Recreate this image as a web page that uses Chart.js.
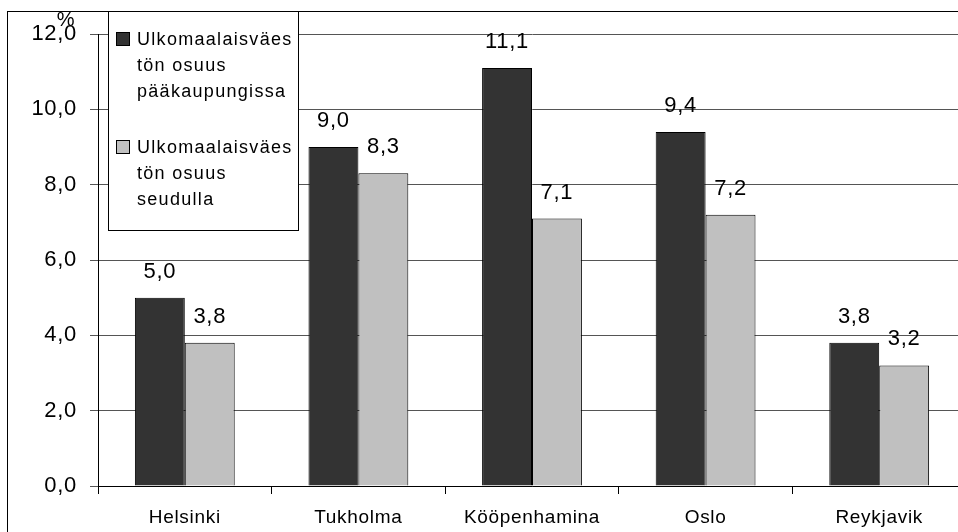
<!DOCTYPE html>
<html>
<head>
<meta charset="utf-8">
<script src="https://cdn.jsdelivr.net/npm/chart.js@4/dist/chart.umd.min.js"></script>
<style>
  html, body { margin: 0; padding: 0; background: #fff; overflow: hidden; }
  #wrap { position: absolute; left: 0; top: 0; width: 966px; height: 532px; }
</style>
</head>
<body>
<div id="wrap"><canvas id="chart" width="966" height="532"></canvas></div>
<script>
const cities = ['Helsinki', 'Tukholma', 'Kööpenhamina', 'Oslo', 'Reykjavik'];
const capitalShare = [5.0, 9.0, 11.1, 9.4, 3.8];
const regionShare = [3.8, 8.3, 7.1, 7.2, 3.2];
const seriesLines = [
    ['Ulkomaalaisväes', 'tön osuus', 'pääkaupungissa'],
    ['Ulkomaalaisväes', 'tön osuus', 'seudulla']
];
const yTicks = [0, 2, 4, 6, 8, 10, 12];
const unitLabel = '%';

const fontFamily = '"Liberation Sans", Arial, sans-serif';

function fmt(v) {
    return v.toFixed(1).replace('.', ',');
}

// frame, % label, value labels and the boxed legend
const extras = {
    id: 'extras',
    beforeDraw(chart) {
        // the old office renderer spaces its glyphs a bit wider
        chart.ctx.letterSpacing = '0.7px';
    },
    afterDraw(chart) {
        const ctx = chart.ctx;
        ctx.save();
        ctx.strokeStyle = '#000';
        ctx.lineWidth = 1;
        ctx.strokeRect(7.5, 11.5, 1100, 1100);

        ctx.fillStyle = '#000';
        ctx.font = '20px ' + fontFamily;
        ctx.textAlign = 'center';
        ctx.textBaseline = 'alphabetic';
        ctx.fillText(unitLabel, 66, 26);

        ctx.font = '22px ' + fontFamily;
        chart.data.datasets.forEach((ds, di) => {
            const meta = chart.getDatasetMeta(di);
            meta.data.forEach((bar, i) => {
                ctx.fillText(fmt(ds.data[i]), bar.x, bar.y - 20);
            });
        });

        // legend
        ctx.fillStyle = '#fff';
        ctx.fillRect(108.5, 11.5, 190, 219);
        ctx.strokeRect(108.5, 11.5, 190, 219);
        ctx.font = '18px ' + fontFamily;
        ctx.letterSpacing = '1.3px';
        ctx.textAlign = 'left';
        chart.data.datasets.forEach((ds, di) => {
            const top = 32 + di * 108;
            ctx.fillStyle = ds.backgroundColor;
            ctx.fillRect(116.5, top + 0.5, 13, 13);
            ctx.strokeRect(116.5, top + 0.5, 13, 13);
            ctx.fillStyle = '#000';
            seriesLines[di].forEach((line, li) => {
                ctx.fillText(line, 137, top + 13 + li * 26);
            });
        });
        ctx.restore();
    }
};

const chart = new Chart(document.getElementById('chart'), {
    type: 'bar',
    data: {
        labels: cities,
        datasets: [{
            label: seriesLines[0].join(''),
            data: capitalShare,
            backgroundColor: '#333333',
            borderColor: '#000',
            borderWidth: 1,
            categoryPercentage: 0.575,
            barPercentage: 1
        }, {
            label: seriesLines[1].join(''),
            data: regionShare,
            backgroundColor: '#c0c0c0',
            borderColor: '#000',
            borderWidth: 1,
            categoryPercentage: 0.575,
            barPercentage: 1
        }]
    },
    options: {
        responsive: false,
        animation: false,
        layout: { padding: { top: 34, right: 0, left: 0, bottom: 0 } },
        plugins: {
            legend: { display: false },
            tooltip: { enabled: false }
        },
        scales: {
            x: {
                grid: { drawOnChartArea: false, drawTicks: true, tickLength: 8, color: '#000' },
                border: { color: '#000' },
                ticks: { color: '#000', padding: 12, font: { family: fontFamily, size: 19 }, maxRotation: 0 },
                afterFit(scale) { scale.height = 46; }
            },
            y: {
                min: 0,
                max: 12,
                afterBuildTicks(scale) { scale.ticks = yTicks.map(v => ({ value: v })); },
                grid: { color: '#555', tickLength: 8 },
                border: { color: '#000' },
                ticks: {
                    color: '#000',
                    padding: 13,
                    font: { family: fontFamily, size: 22 },
                    callback: v => fmt(v)
                },
                afterFit(scale) { scale.width = 98; }
            }
        }
    },
    plugins: [extras]
});
</script>
</body>
</html>
